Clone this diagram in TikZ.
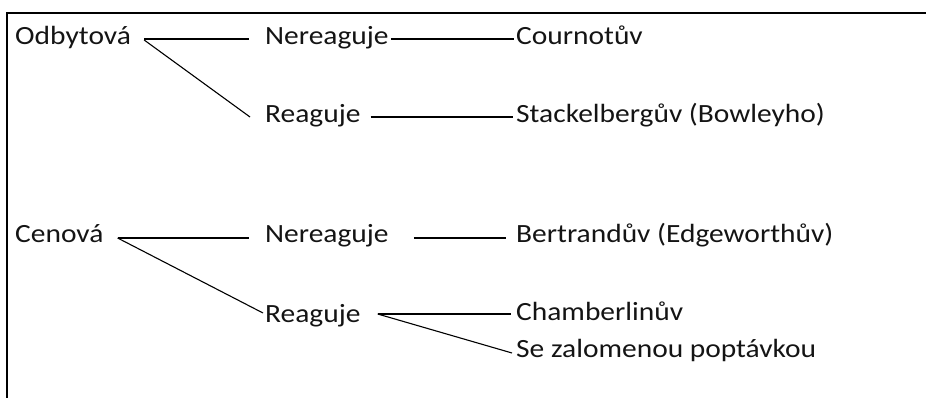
\documentclass[tikz,border=0pt]{standalone}
\usepackage{fontspec}
\setmainfont{Carlito}[FakeStretch=1.12]
\usetikzlibrary{calc}
\tikzset{
  lbl/.style={anchor=base west, inner sep=0pt, text=black!92, font=\fontsize{26.3}{30}\selectfont},
  conn/.style={draw=black, line width=1.1pt},
  frame/.style={draw=black, line width=2pt}
}
\begin{document}
\begin{tikzpicture}[x=1pt,y=-1pt]
\useasboundingbox (0,0) rectangle (926,398);
\draw[frame] (7,399) -- (7,13) -- (927,13);
% row 1 and 2
\node[lbl] (od) at (15,45) {Odbytová};
\node[lbl] (n1) at (265,45) {Nereaguje};
\node[lbl] (c1) at (516,45) {Cournotův};
\node[lbl] (r1) at (265,123) {Reaguje};
\node[lbl] (s1) at (516,123) {Stackelbergův (Bowleyho)};
% row 3 and 4
\node[lbl] (ce) at (15,242) {Cenová};
\node[lbl] (n2) at (265,242) {Nereaguje};
\node[lbl] (b2) at (516,242) {Bertrandův (Edgeworthův)};
\node[lbl] (r2) at (265,322) {Reaguje};
\node[lbl] (ch) at (516,320) {Chamberlinův};
\node[lbl] (se) at (516,357) {Se zalomenou poptávkou};
% connectors
\draw[conn] ($(od.base east)+(13,-6)$) -- ($(n1.base west)+(-16,-6)$);
\draw[conn] ($(od.base east)+(13,-5)$) -- ($(r1.base west)+(-15,-6)$);
\draw[conn] ($(n1.base east)+(2,-6)$) -- ($(c1.base west)+(-2,-6)$);
\draw[conn] ($(r1.base east)+(10,-6)$) -- ($(s1.base west)+(-3,-6)$);
\draw[conn] ($(ce.base east)+(14,-4)$) -- ($(n2.base west)+(-16,-4)$);
\draw[conn] ($(ce.base east)+(14,-4)$) -- ($(r2.base west)+(-2,-9)$);
\draw[conn] ($(n2.base east)+(25,-4)$) -- ($(b2.base west)+(-10,-4)$);
\draw[conn] ($(r2.base east)+(17,-8)$) -- ($(ch.base west)+(-5,-6)$);
\draw[conn] ($(r2.base east)+(17,-8)$) -- ($(se.base west)+(-4,-4)$);
\end{tikzpicture}
\end{document}
